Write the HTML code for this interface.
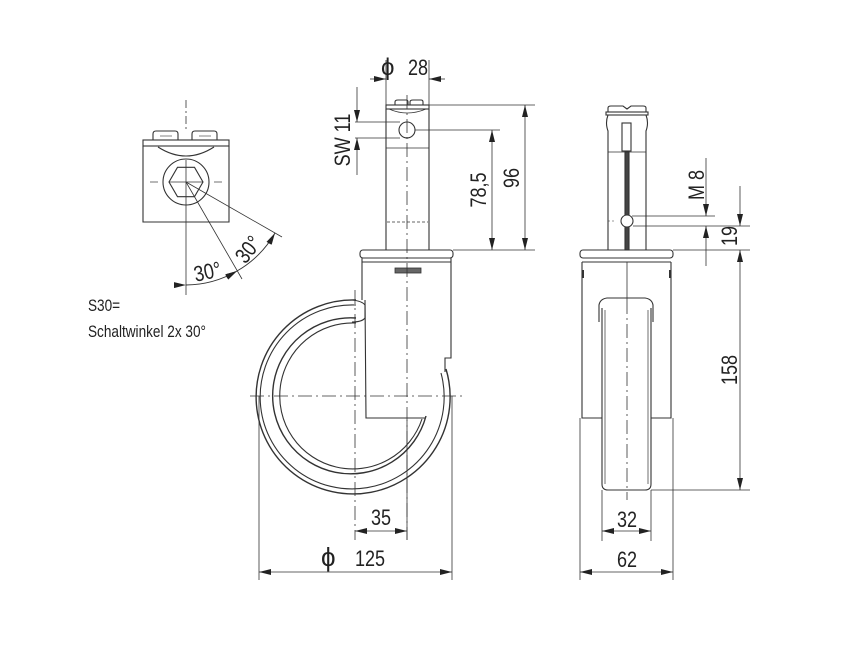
<!DOCTYPE html>
<html><head><meta charset="utf-8"><style>
html,body{margin:0;padding:0;background:#fff}
svg{display:block}
text{font-family:"Liberation Sans",sans-serif;fill:#222}
</style></head><body>
<svg width="862" height="645" viewBox="0 0 862 645" xmlns="http://www.w3.org/2000/svg">
<defs>
<marker id="a" viewBox="0 0 12 6" refX="12" refY="3" markerWidth="12" markerHeight="6" markerUnits="userSpaceOnUse" orient="auto"><path d="M0,0 L12,3 L0,6 z" fill="#222"/></marker>
</defs>
<g fill="none" stroke="#333" stroke-width="1.1">

<line x1="186" y1="100" x2="186" y2="130" stroke-dasharray="8,3,2,3" stroke-width="0.8"/>
<path d="M153,140 v-6 q0,-3 3,-3 h19 q3,0 3,3 v6 M192,140 v-6 q0,-3 3,-3 h19 q3,0 3,3 v6"/>
<line x1="160" y1="136" x2="172" y2="136" stroke-width="0.6"/><line x1="199" y1="136" x2="211" y2="136" stroke-width="0.6"/>
<rect x="143" y="140" width="86" height="6"/>
<path d="M143,146 V222 H229 V146"/>
<path d="M158,147 q28,18 56,0"/>
<circle cx="186" cy="182" r="23"/>
<polygon points="203,182 194.5,196.7 177.5,196.7 169,182 177.5,167.3 194.5,167.3"/>
<line x1="169" y1="182" x2="203" y2="182" stroke-width="0.8"/>
<line x1="150" y1="182" x2="158" y2="182" stroke-width="0.7"/><line x1="214" y1="182" x2="222" y2="182" stroke-width="0.7"/>
<line x1="186" y1="160" x2="186" y2="295" stroke-width="0.8"/>
<line x1="186" y1="182" x2="242" y2="279" stroke-width="0.8"/>
<line x1="186" y1="182" x2="282" y2="237" stroke-width="0.8"/>
<path d="M186,285 A103,103 0 0 0 237,271" marker-start="url(#a)" marker-end="url(#a)" stroke-width="0.9"/>
<path d="M237,271 A103,103 0 0 0 275,233" marker-end="url(#a)" marker-start="url(#a)" stroke-width="0.9"/>

<path d="M395,105 v-3 q0,-2 3,-2 h8 q2,0 2,2 v3 M410,105 v-3 q0,-2 3,-2 h8 q2,0 2,2 v3"/>
<rect x="386" y="105" width="43" height="4"/>
<path d="M386,109 V250 M429,109 V250"/>
<path d="M389,109 q18,8 37,0" stroke-width="0.7"/>
<circle cx="407" cy="130" r="8"/>
<line x1="386" y1="148" x2="429" y2="148" stroke-width="0.7"/>
<line x1="387" y1="222" x2="428" y2="222" stroke-dasharray="3,2" stroke-width="0.7"/>
<rect x="360" y="250" width="93" height="8" rx="3"/>
<line x1="362" y1="262" x2="451" y2="262"/>
<rect x="395" y="268" width="26" height="5" fill="#666" stroke-width="0.8"/>
<path d="M362,258 V300 M451,258 V358 H445 V372"/>
<path d="M365,300 L366,418 H425"/>
<path d="M356,300 A97,97 0 1 0 446,369" stroke-width="1.4"/>
<path d="M356,305 A92,92 0 1 0 441,373"/>
<path d="M356,318 A78,78 0 1 0 426,416" stroke-width="1.4"/>
<path d="M356,323 A73,73 0 1 0 422,419"/>
<path d="M352,300 q10,1 13,5 v13 q-3,4 -13,4" />
<line x1="250" y1="396" x2="462" y2="396" stroke-dasharray="14,4,2,4" stroke-width="0.8"/>
<line x1="355" y1="290" x2="355" y2="540" stroke-dasharray="14,4,2,4" stroke-width="0.8"/>
<line x1="407" y1="95" x2="407" y2="540" stroke-dasharray="14,4,2,4" stroke-width="0.8"/>
<line x1="407" y1="420" x2="407" y2="540" stroke-width="0.8"/>

<g stroke-width="0.8">
<line x1="386" y1="60" x2="386" y2="105"/><line x1="429" y1="60" x2="429" y2="105"/>
<line x1="370" y1="79" x2="386" y2="79" marker-end="url(#a)"/><line x1="445" y1="79" x2="429" y2="79" marker-end="url(#a)"/>
<line x1="429" y1="105" x2="535" y2="105"/><line x1="453" y1="250" x2="535" y2="250"/>
<line x1="525" y1="175" x2="525" y2="105" marker-end="url(#a)"/><line x1="525" y1="175" x2="525" y2="250" marker-end="url(#a)"/>
<line x1="415" y1="130" x2="500" y2="130"/>
<line x1="492" y1="190" x2="492" y2="130" marker-end="url(#a)"/><line x1="492" y1="190" x2="492" y2="250" marker-end="url(#a)"/>
<line x1="355" y1="122" x2="400" y2="122"/><line x1="355" y1="138" x2="400" y2="138"/>
<line x1="357" y1="87" x2="357" y2="122" marker-end="url(#a)"/><line x1="357" y1="175" x2="357" y2="138" marker-end="url(#a)"/>
<line x1="259" y1="396" x2="259" y2="580"/><line x1="452" y1="396" x2="452" y2="580"/>
<line x1="355" y1="572" x2="259" y2="572" marker-end="url(#a)"/><line x1="355" y1="572" x2="452" y2="572" marker-end="url(#a)"/>
<line x1="381" y1="531" x2="355" y2="531" marker-end="url(#a)"/><line x1="381" y1="531" x2="407" y2="531" marker-end="url(#a)"/>
</g>

<path d="M608,112 v-4 q0,-2 3,-2 h12 l4,3 l4,-3 h12 q3,0 3,2 v4"/>
<rect x="606" y="112" width="42" height="3"/>
<path d="M608,115 q-3,8 0,16 v119 M646,115 q3,8 0,16 v119"/>
<line x1="608" y1="152" x2="646" y2="152" stroke-width="0.7"/>
<rect x="622" y="123" width="9" height="28"/>
<rect x="625" y="152" width="4" height="98" fill="#444"/>
<circle cx="627" cy="221" r="6" fill="#fff"/>
<line x1="608" y1="221" x2="614" y2="221" stroke-dasharray="2,2" stroke-width="0.6"/>
<rect x="580" y="250" width="93" height="8" rx="3"/>
<line x1="582" y1="262" x2="671" y2="262"/>
<path d="M582,262 V418 H602 M671,262 V418 H651"/>
<path d="M583,270 v8 M670,270 v8" stroke-width="2"/>
<path d="M599,322 V305 q1,-6 8,-7 h38 q7,1 8,7 V322"/>
<path d="M602,308 V484 q0,6 6,6 h37 q6,0 6,-6 V308"/>
<path d="M605,310 V484 M648,310 V484" stroke-width="0.7"/>
<line x1="627" y1="262" x2="627" y2="300" stroke-width="0.8"/>
<line x1="627" y1="300" x2="627" y2="500" stroke-dasharray="14,4,2,4" stroke-width="0.8"/>

<g stroke-width="0.8">
<line x1="632" y1="216" x2="715" y2="216"/><line x1="633" y1="226" x2="750" y2="226"/>
<line x1="706" y1="158" x2="706" y2="216" marker-end="url(#a)"/><line x1="706" y1="266" x2="706" y2="226" marker-end="url(#a)"/>
<line x1="673" y1="250" x2="750" y2="250"/>
<line x1="740" y1="186" x2="740" y2="226" marker-end="url(#a)"/>
<line x1="740" y1="370" x2="740" y2="250" marker-end="url(#a)"/>
<line x1="740" y1="370" x2="740" y2="490" marker-end="url(#a)"/>
<line x1="651" y1="490" x2="750" y2="490"/>
<line x1="602" y1="490" x2="602" y2="541"/><line x1="651" y1="490" x2="651" y2="541"/>
<line x1="580" y1="418" x2="580" y2="580"/><line x1="673" y1="418" x2="673" y2="580"/>
<line x1="627" y1="531" x2="602" y2="531" marker-end="url(#a)"/><line x1="627" y1="531" x2="651" y2="531" marker-end="url(#a)"/>
<line x1="627" y1="572" x2="580" y2="572" marker-end="url(#a)"/><line x1="627" y1="572" x2="673" y2="572" marker-end="url(#a)"/>
</g>
</g>

<g font-size="22">
<text x="381" y="75" font-size="24">ϕ</text><text transform="translate(408 75) scale(0.82 1)">28</text>
<text transform="translate(519 178) rotate(-90) scale(0.82 1)" text-anchor="middle">96</text>
<text transform="translate(486 190) rotate(-90) scale(0.82 1)" text-anchor="middle">78,5</text>
<text transform="translate(350 140) rotate(-90) scale(0.82 1)" text-anchor="middle">SW 11</text>
<text transform="translate(381 525) scale(0.82 1)" text-anchor="middle">35</text>
<text x="321" y="566" font-size="26">ϕ</text><text transform="translate(355 566) scale(0.82 1)">125</text>
<text transform="translate(704 185) rotate(-90) scale(0.82 1)" text-anchor="middle">M 8</text>
<text transform="translate(737 236) rotate(-90) scale(0.82 1)" text-anchor="middle">19</text>
<text transform="translate(737 370) rotate(-90) scale(0.82 1)" text-anchor="middle">158</text>
<text transform="translate(627 527) scale(0.82 1)" text-anchor="middle">32</text>
<text transform="translate(627 567) scale(0.82 1)" text-anchor="middle">62</text>
<text transform="translate(209 279) rotate(-12) scale(0.82 1)" text-anchor="middle">30°</text>
<text transform="translate(254 254) rotate(-52) scale(0.82 1)" text-anchor="middle">30°</text>
</g>
<g font-size="17">
<text transform="translate(88 311) scale(0.8 1)">S30=</text>
<text transform="translate(88 337) scale(0.8 1)">Schaltwinkel 2x 30°</text>
</g>
</svg>
</body></html>
